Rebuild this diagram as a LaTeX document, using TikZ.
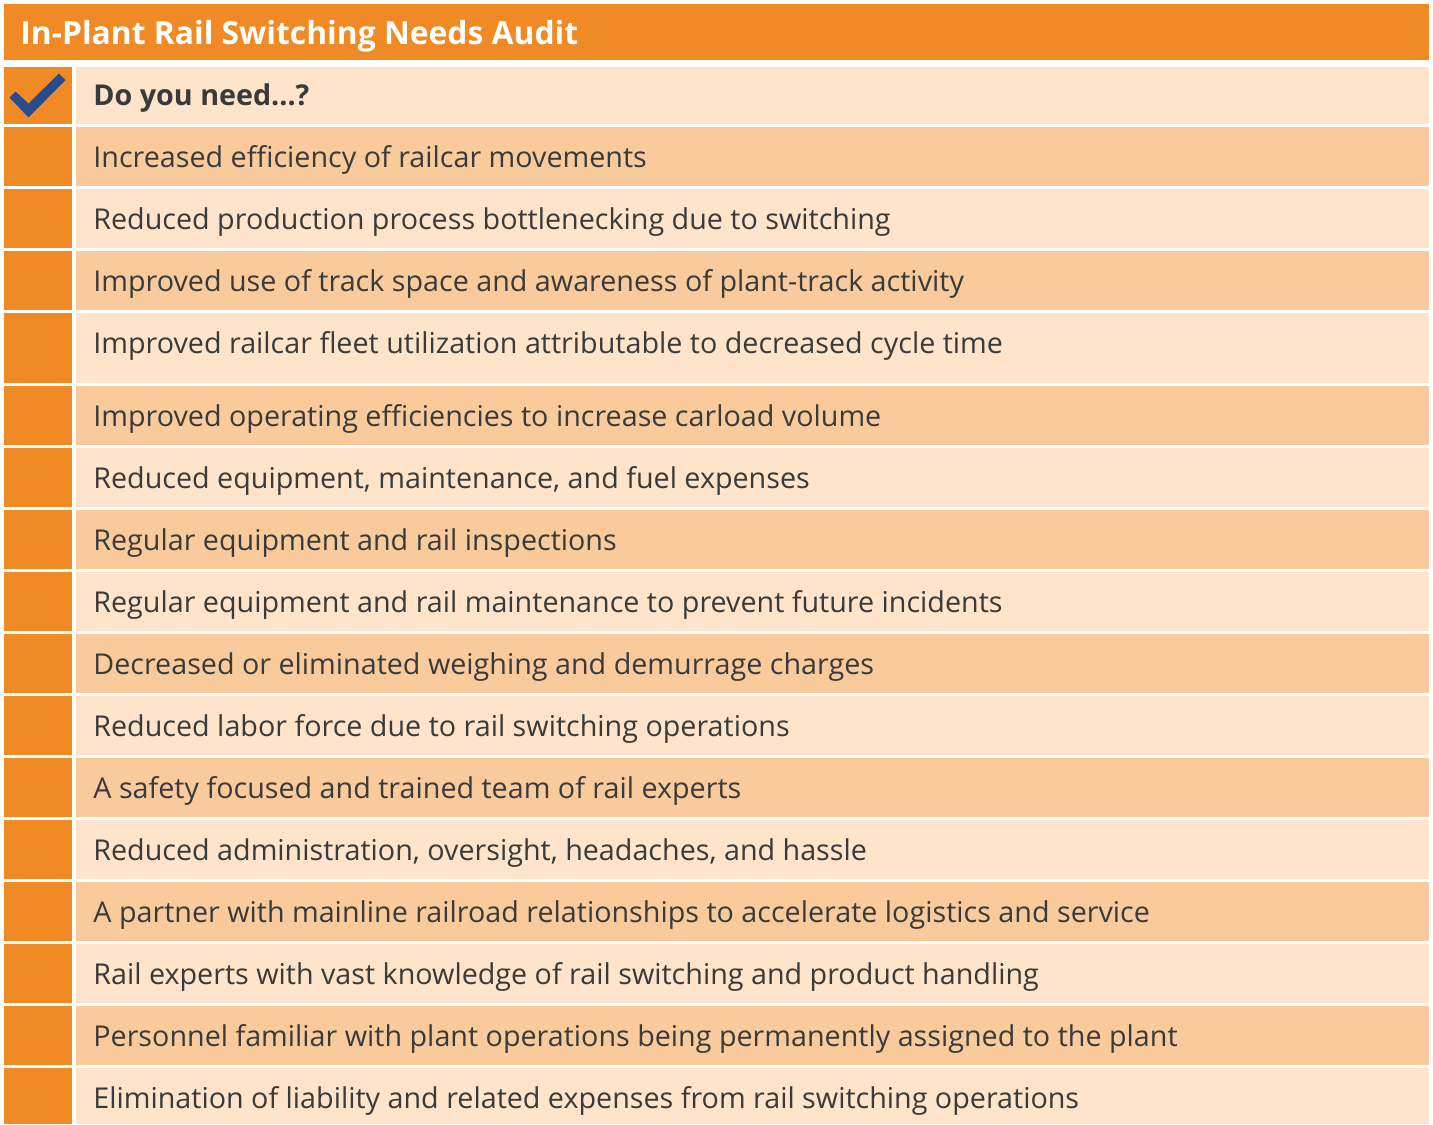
\documentclass[tikz,border=0pt]{standalone}
\usepackage{fontspec}
\setmainfont{Open Sans}
\definecolor{hdr}{HTML}{F08A24}
\definecolor{lite}{HTML}{FDE4CA}
\definecolor{dark}{HTML}{F9CB9C}
\definecolor{txt}{HTML}{3A3A3A}
\definecolor{chk}{HTML}{2B4C8C}
\tikzset{
  item/.style={anchor=west, inner sep=0pt, text=txt, font=\fontsize{14.35}{16}\selectfont},
  hdrtext/.style={anchor=west, inner sep=0pt, text=white, font=\fontsize{15.9}{18}\selectfont\bfseries},
}
\begin{document}
\begin{tikzpicture}[x=0.5pt,y=-0.5pt]
\useasboundingbox (0,0) rectangle (1433,1124);
\fill[white] (0,0) rectangle (1433,1124);
% header
\fill[hdr] (4,4) rectangle (1429,60);
\node[hdrtext] (title) at (20,36) {In-Plant Rail Switching Needs Audit};
% rows: top, bottom, colour, text
\foreach \i/\t/\b/\c/\ty/\s in {
 0/67/124/lite/98/{\textbf{Do you need...?}},
 1/127/186/dark/160/{Increased efficiency of railcar movements},
 2/189/248/lite/222/{Reduced production process bottlenecking due to switching},
 3/251/310/dark/284/{Improved use of track space and awareness of plant-track activity},
 4/313/383/lite/346/{Improved railcar fleet utilization attributable to decreased cycle time},
 5/386/445/dark/419/{Improved operating efficiencies to increase carload volume},
 6/448/507/lite/481/{Reduced equipment, maintenance, and fuel expenses},
 7/510/569/dark/543/{Regular equipment and rail inspections},
 8/572/631/lite/605/{Regular equipment and rail maintenance to prevent future incidents},
 9/634/693/dark/667/{Decreased or eliminated weighing and demurrage charges},
 10/696/755/lite/729/{Reduced labor force due to rail switching operations},
 11/758/817/dark/791/{A safety focused and trained team of rail experts},
 12/820/879/lite/853/{Reduced administration, oversight, headaches, and hassle},
 13/882/941/dark/915/{A partner with mainline railroad relationships to accelerate logistics and service},
 14/944/1003/lite/977/{Rail experts with vast knowledge of rail switching and product handling},
 15/1006/1065/dark/1039/{Personnel familiar with plant operations being permanently assigned to the plant},
 16/1068/1124/lite/1101/{Elimination of liability and related expenses from rail switching operations}}
{
  \fill[hdr] (4,\t) rectangle (72,\b);
  \fill[\c] (76,\t) rectangle (1429,\b);
  \node[item] (row\i) at (93,\ty) {\s};
}
% check mark
\fill[chk] (9.5,97.5) -- (15.5,91.5) -- (28.5,103.5) -- (59,73.5) -- (65.5,80) -- (28.5,117.5) -- cycle;
\end{tikzpicture}
\end{document}
